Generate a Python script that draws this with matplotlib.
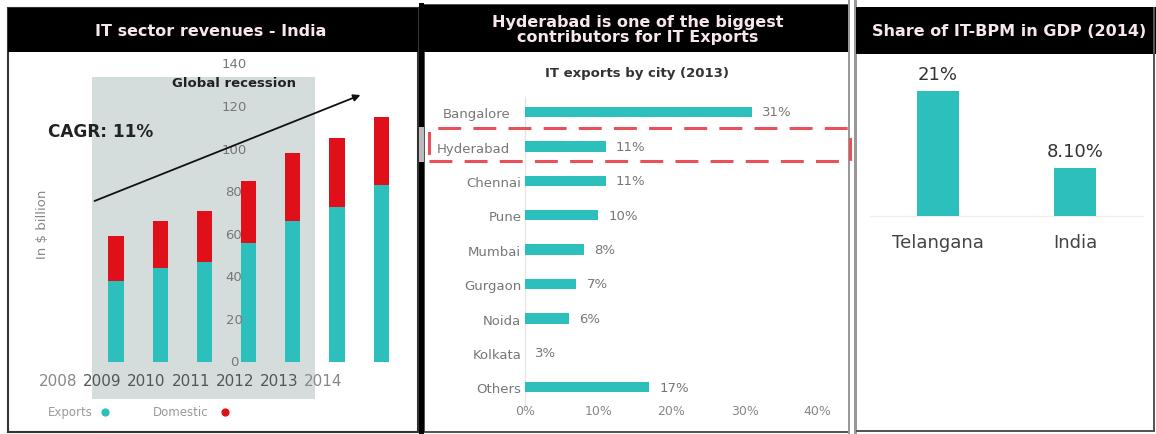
import matplotlib
matplotlib.use("Agg")
import matplotlib.pyplot as plt
from matplotlib.patches import Rectangle

# ---------------- data ----------------
years = ["2008", "2009", "2010", "2011", "2012", "2013", "2014"]
exports = [38, 44, 47, 56, 66, 73, 83]
domestic = [21, 22, 24, 29, 32, 32, 32]
rev_yticks = [0, 20, 40, 60, 80, 100, 120, 140]

cities = ["Bangalore", "Hyderabad", "Chennai", "Pune", "Mumbai", "Gurgaon",
          "Noida", "Kolkata", "Others"]
city_share = [31, 11, 11, 10, 8, 7, 6, 3, 17]
city_labels = ["31%", "11%", "11%", "10%", "8%", "7%", "6%", "3%", "17%"]
city_xticks = [0, 10, 20, 30, 40]

regions = ["Telangana", "India"]
gdp_share = [21, 8.1]
gdp_labels = ["21%", "8.10%"]

# ---------------- style ----------------
W, H = 1156, 435
TEAL = "#2cbfbb"
RED = "#e0101a"
SHADE = "#d5dcdc"
TITLE_C = "#f8e6ee"
plt.rcParams["font.family"] = ["DejaVu Sans"]

fig = plt.figure(figsize=(W / 100, H / 100), dpi=100)
fig.patch.set_facecolor("white")


def fx(px):
    return px / W


def fy(py):
    return 1 - py / H


def add_axes_px(l, t, r, b):
    ax = fig.add_axes([fx(l), fy(b), (r - l) / W, (b - t) / H])
    ax.set_axis_off()
    ax.patch.set_alpha(0)
    return ax


def rect_px(l, t, r, b, **kw):
    fig.patches.append(Rectangle((fx(l), fy(b)), (r - l) / W, (b - t) / H,
                                 transform=fig.transFigure, **kw))


# ---------------- panel frames ----------------
rect_px(8, 9, 418, 433, fill=False, edgecolor="#333333", lw=1.5, zorder=0)
rect_px(8, 9, 418, 53, facecolor="black", edgecolor="none", zorder=1)
rect_px(419, 4, 424, 435, facecolor="black", edgecolor="none", zorder=1)
rect_px(419, 128, 424, 163, facecolor="#bbbbbb", edgecolor="none", zorder=2)
rect_px(424, 6, 849, 433, fill=False, edgecolor="#333333", lw=1.2, zorder=0)
rect_px(424, 6, 849, 53, facecolor="black", edgecolor="none", zorder=1)
rect_px(848, 0, 850, 435, facecolor="#999999", edgecolor="none", zorder=1)
rect_px(854, 0, 857, 435, facecolor="#999999", edgecolor="none", zorder=1)
rect_px(856, 8, 1156, 55, facecolor="black", edgecolor="none", zorder=1)
rect_px(1153, 8, 1155, 433, facecolor="#555555", edgecolor="none", zorder=1)
rect_px(856, 431, 1155, 433, facecolor="#555555", edgecolor="none", zorder=1)

fig.text(fx(211), fy(32), "IT sector revenues - India", color=TITLE_C,
         fontsize=11.5, fontweight="bold", ha="center", va="center")
fig.text(fx(638), fy(30), "Hyderabad is one of the biggest\ncontributors for IT Exports",
         color=TITLE_C, fontsize=11.5, fontweight="bold", ha="center", va="center",
         linespacing=0.95)
fig.text(fx(1009), fy(32), "Share of IT-BPM in GDP (2014)", color=TITLE_C,
         fontsize=11.5, fontweight="bold", ha="center", va="center")

# ---------------- panel 1: revenues ----------------
P1_L, P1_T, P1_R, P1_B = 10, 56, 416, 430
X0, XS = 116, 44.2      # px of first bar, px per category
Y0, YS = 363, 2.13      # px of zero, px per unit
ax1 = add_axes_px(P1_L, P1_T, P1_R, P1_B)
ax1.set_xlim((P1_L - X0) / XS, (P1_R - X0) / XS)
ax1.set_ylim((Y0 - P1_B) / YS, (Y0 - P1_T) / YS)


def d1x(px):
    return (px - X0) / XS


def d1y(py):
    return (Y0 - py) / YS


ax1.add_patch(Rectangle((d1x(92), d1y(400)), d1x(315) - d1x(92), d1y(78) - d1y(400),
                        facecolor=SHADE, edgecolor="none", zorder=0))
xs = list(range(len(years)))
ax1.bar(xs, exports, width=0.34, color=TEAL, zorder=2)
ax1.bar(xs, domestic, width=0.34, bottom=exports, color=RED, zorder=2)
for v in rev_yticks:
    ax1.text(d1x(234), v, str(v), ha="center", va="center", fontsize=9.5,
             color="#777777", zorder=3)
for i, y in enumerate(years):
    ax1.text(i - 1.31, d1y(381), y, ha="center", va="center", fontsize=11,
             color="#555555" if 0 < i < 6 else "#888888", zorder=3)
ax1.text(d1x(234), d1y(83), "Global recession", ha="center", va="center",
         fontsize=9.5, fontweight="bold", color="#222222", zorder=3)
ax1.text(d1x(48), d1y(132), "CAGR: 11%", ha="left", va="center",
         fontsize=12.2, fontweight="bold", color="#222222", zorder=3)
ax1.annotate("", xy=(d1x(363), d1y(95)), xytext=(d1x(92), d1y(203)),
             arrowprops=dict(arrowstyle="-|>", color="#111111", lw=1.3,
                             mutation_scale=10), zorder=3)
ax1.text(d1x(42), d1y(224), "In $ billion", rotation=90, ha="center", va="center",
         fontsize=9.5, color="#888888")
ax1.text(d1x(48), d1y(413), "Exports", ha="left", va="center", fontsize=8.5,
         color="#999999")
ax1.scatter([d1x(105)], [d1y(413)], s=24, color=TEAL, zorder=3, clip_on=False)
ax1.text(d1x(153), d1y(413), "Domestic", ha="left", va="center", fontsize=8.5,
         color="#999999")
ax1.scatter([d1x(225)], [d1y(413)], s=24, color=RED, zorder=3, clip_on=False)

# ---------------- panel 2: exports by city ----------------
P2_L, P2_T, P2_R, P2_B = 426, 60, 846, 430
C0, CS = 525, 7.32      # px of 0 %, px per %
R0, RS = 113, 34.4      # px of first row, px per row
ax2 = add_axes_px(P2_L, P2_T, P2_R, P2_B)
ax2.set_xlim((P2_L - C0) / CS, (P2_R - C0) / CS)
ax2.set_ylim((P2_B - R0) / RS, (P2_T - R0) / RS)


def d2x(px):
    return (px - C0) / CS


def d2y(py):
    return (py - R0) / RS


ax2.text(d2x(637), d2y(73), "IT exports by city (2013)", ha="center", va="center",
         fontsize=9.5, fontweight="bold", color="#333333")
rows = list(range(len(cities)))
bar_colors = [TEAL if c != "Kolkata" else "none" for c in cities]
ax2.barh(rows, city_share, height=0.3, color=bar_colors, zorder=2)
ax2.plot([0, 0], [-0.45, 8.55], color="#e6e6e6", lw=1, zorder=1)
for r, (c, v, lab) in enumerate(zip(cities, city_share, city_labels)):
    lx = d2x(510) if r < 2 else -0.5
    ax2.text(lx, r + 0.05, c, ha="right", va="center", fontsize=9.5,
             color="#777777", zorder=3)
    end = v if c != "Kolkata" else 0
    ax2.text(end + 1.4, r, lab, ha="left", va="center", fontsize=9.5, color="#777777")
for t in city_xticks:
    ax2.text(t, d2y(412), f"{t}%", ha="center", va="center", fontsize=9,
             color="#888888")

rect_px(429, 129, 850, 162, fill=False, edgecolor="#e8505a", lw=2.2,
        linestyle=(0, (7.5, 4)), zorder=5)

# ---------------- panel 3: GDP share ----------------
P3_L, P3_T, P3_R, P3_B = 857, 57, 1152, 430
G0, GS = 938, 137       # px of first bar, px per category
B0, BS = 217, 5.95      # px of baseline, px per %
ax3 = add_axes_px(P3_L, P3_T, P3_R, P3_B)
ax3.set_xlim((P3_L - G0) / GS, (P3_R - G0) / GS)
ax3.set_ylim((B0 - P3_B) / BS, (B0 - P3_T) / BS)
gx = list(range(len(regions)))
ax3.bar(gx, gdp_share, width=0.3, color=TEAL, zorder=2)
ax3.plot([(870 - G0) / GS, (1143 - G0) / GS], [0, 0], color="#eeeeee", lw=1, zorder=1)
for i, (v, lab, name) in enumerate(zip(gdp_share, gdp_labels, regions)):
    ax3.text(i, v + 1.3, lab, ha="center", va="bottom", fontsize=13, color="#333333")
    ax3.text(i, (B0 - 243) / BS, name, ha="center", va="center", fontsize=13,
             color="#444444")

fig.savefig("out.png", dpi=100, facecolor="white")
